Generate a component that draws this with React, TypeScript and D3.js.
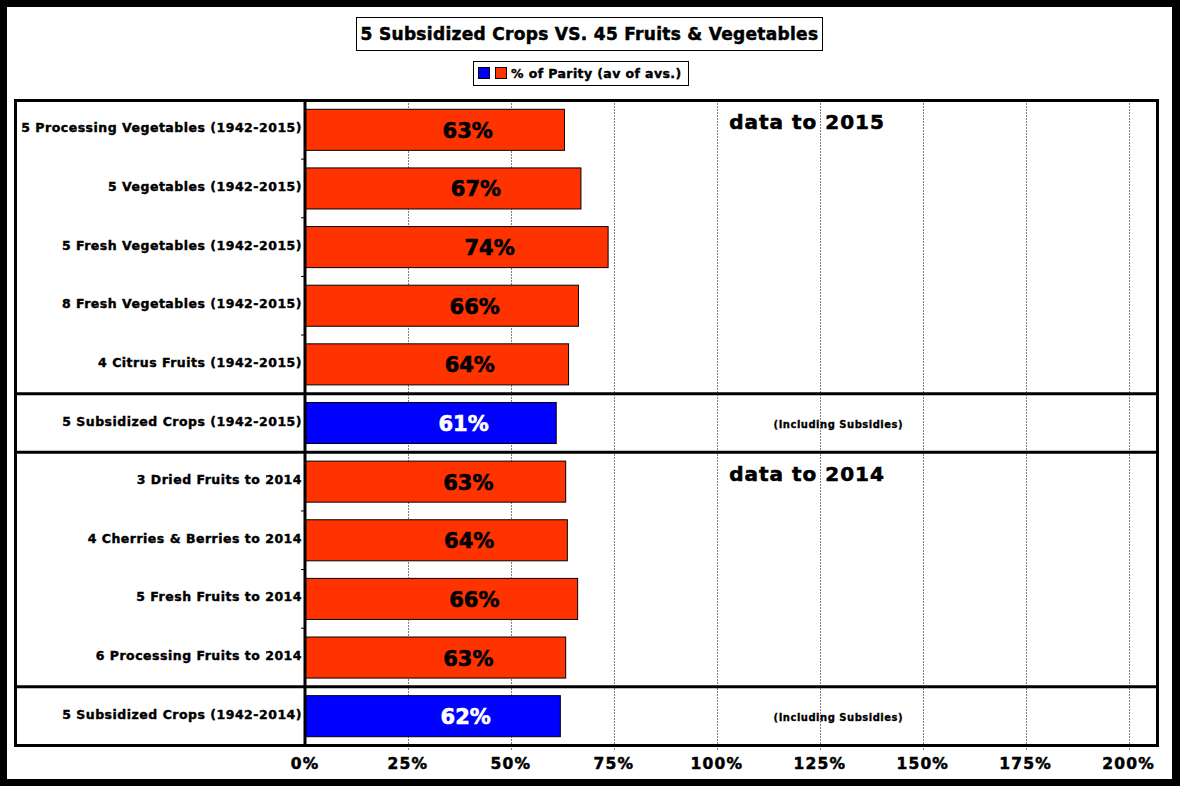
import { useEffect } from 'react';
import * as d3 from 'd3';

const categories = [
	'5 Processing Vegetables (1942-2015)',
	'5 Vegetables (1942-2015)',
	'5 Fresh Vegetables (1942-2015)',
	'8 Fresh Vegetables (1942-2015)',
	'4 Citrus Fruits (1942-2015)',
	'5 Subsidized Crops (1942-2015)',
	'3 Dried Fruits to 2014',
	'4 Cherries & Berries to 2014',
	'5 Fresh Fruits to 2014',
	'6 Processing Fruits to 2014',
	'5 Subsidized Crops (1942-2014)',
];
const parity = [0.63, 0.67, 0.736, 0.664, 0.64, 0.61, 0.633, 0.637, 0.662, 0.633, 0.62];
const xTicks = [0, 0.25, 0.5, 0.75, 1, 1.25, 1.5, 1.75, 2];
const groupBreaks = [4, 5, 9]; // separator after these rows
const dataNotes = [
	{ row: 0, text: 'data to 2015' },
	{ row: 6, text: 'data to 2014' },
];
const subsidyNotes = [
	{ row: 5, text: '(Including Subsidies)' },
	{ row: 10, text: '(Including Subsidies)' },
];
const title = '5 Subsidized Crops VS. 45 Fruits & Vegetables';
const legendLabel = '% of Parity (av of avs.)';

const W = 1180;
const H = 786;
const FONT = '"DejaVu Sans", Verdana, sans-serif';
const ORANGE = '#ff3300';
const BLUE = '#0000ff';

export default function App() {
	useEffect(() => {
		document.body.style.margin = '0';
	}, []);

	const frame = { left: 15.5, top: 100.5, right: 1157.5, bottom: 745.5 };
	const divider = 305;

	const x = d3.scaleLinear().domain([0, 2.07]).range([divider, frame.right]);
	const y = d3
		.scaleBand<string>()
		.domain(categories)
		.range([frame.top, frame.bottom])
		.paddingInner(0.3)
		.paddingOuter(0.15);
	const step = y.step();
	const rowTop = (i: number) => frame.top + i * step;
	const rowMid = (i: number) => frame.top + (i + 0.5) * step;
	const isSubsidized = (c: string) => c.startsWith('5 Subsidized');

	// thicker glyphs, closer to the heavy font of the original
	const heavy = (color: string, w = 0.45) => ({ stroke: color, strokeWidth: w, fill: color });

	return (
		<svg width={W} height={H} style={{ display: 'block', position: 'absolute', left: 0, top: 0 }} fontFamily={FONT} fontWeight="bold">
			<rect x={0} y={0} width={W} height={H} fill="#000" />
			<rect x={7} y={7} width={1165} height={772} fill="#fff" />

			{/* title */}
			<rect x={356.5} y={17.5} width={466} height={33} fill="#fff" stroke="#000" strokeWidth={1} />
			<text x={589.5} y={40} textAnchor="middle" fontSize={17} letterSpacing={0.3} {...heavy('#000', 0.5)}>
				{title}
			</text>

			{/* legend */}
			<rect x={473.5} y={61.5} width={215} height={24} fill="#fff" stroke="#000" strokeWidth={1} />
			<rect x={478.5} y={67.5} width={11} height={11} fill={BLUE} stroke="#000" strokeWidth={1} />
			<rect x={495.5} y={67.5} width={11} height={11} fill={ORANGE} stroke="#000" strokeWidth={1} />
			<text x={511} y={78} fontSize={12.5} letterSpacing={0.4} {...heavy('#000', 0.4)}>
				{legendLabel}
			</text>

			{/* grid lines */}
			{xTicks.slice(1).map((t) => (
				<line
					key={'g' + t}
					x1={Math.round(x(t)) + 0.5}
					x2={Math.round(x(t)) + 0.5}
					y1={frame.top}
					y2={frame.bottom + 5}
					stroke="#000"
					strokeWidth={1}
					strokeDasharray="1,2"
				/>
			))}

			{/* bars */}
			{categories.map((c, i) => (
				<rect
					key={c}
					x={x(0)}
					y={y(c)!}
					width={x(parity[i]) - x(0)}
					height={y.bandwidth()}
					fill={isSubsidized(c) ? BLUE : ORANGE}
					stroke="#000"
					strokeWidth={1}
				/>
			))}

			{/* bar values */}
			{categories.map((c, i) => (
				<text
					key={'v' + c}
					x={(x(0) + x(parity[i])) / 2 + 33}
					y={y(c)! + y.bandwidth() / 2 + 8}
					textAnchor="middle"
					fontSize={21}
					{...heavy(isSubsidized(c) ? '#fff' : '#000', 0.6)}
				>
					{Math.round(parity[i] * 100) + '%'}
				</text>
			))}

			{/* category labels */}
			{categories.map((c, i) => (
				<text key={'l' + c} x={divider - 3} y={rowMid(i) + 2.5} textAnchor="end" fontSize={12.5} letterSpacing={0.5} {...heavy('#000', 0.4)}>
					{c}
				</text>
			))}

			{/* row ticks on divider */}
			{d3.range(1, categories.length).map((i) => (
				<line key={'t' + i} x1={divider - 4} x2={divider} y1={rowTop(i)} y2={rowTop(i)} stroke="#000" strokeWidth={1} />
			))}

			{/* notes */}
			{dataNotes.map((n) => (
				<text key={n.text} x={x(1.03)} y={rowMid(n.row) - 1} fontSize={20} letterSpacing={1} {...heavy('#000', 0.6)}>
					{n.text}
				</text>
			))}
			{subsidyNotes.map((n) => (
				<text key={'s' + n.row} x={x(1.295)} y={rowMid(n.row) + 5} textAnchor="middle" fontSize={10} letterSpacing={0.5} {...heavy('#000', 0.3)}>
					{n.text}
				</text>
			))}

			{/* group separators */}
			{groupBreaks.map((r) => (
				<line key={'b' + r} x1={frame.left} x2={frame.right} y1={rowTop(r + 1)} y2={rowTop(r + 1)} stroke="#000" strokeWidth={3} />
			))}

			{/* frame and divider */}
			<line x1={divider} x2={divider} y1={frame.top} y2={frame.bottom} stroke="#000" strokeWidth={3} />
			<rect
				x={frame.left}
				y={frame.top}
				width={frame.right - frame.left}
				height={frame.bottom - frame.top}
				fill="none"
				stroke="#000"
				strokeWidth={3}
			/>

			{/* x axis labels */}
			{xTicks.map((t) => (
				<text key={'x' + t} x={x(t)} y={769} textAnchor="middle" fontSize={15.5} letterSpacing={1.2} {...heavy('#000', 0.5)}>
					{d3.format('.0%')(t)}
				</text>
			))}
		</svg>
	);
}
